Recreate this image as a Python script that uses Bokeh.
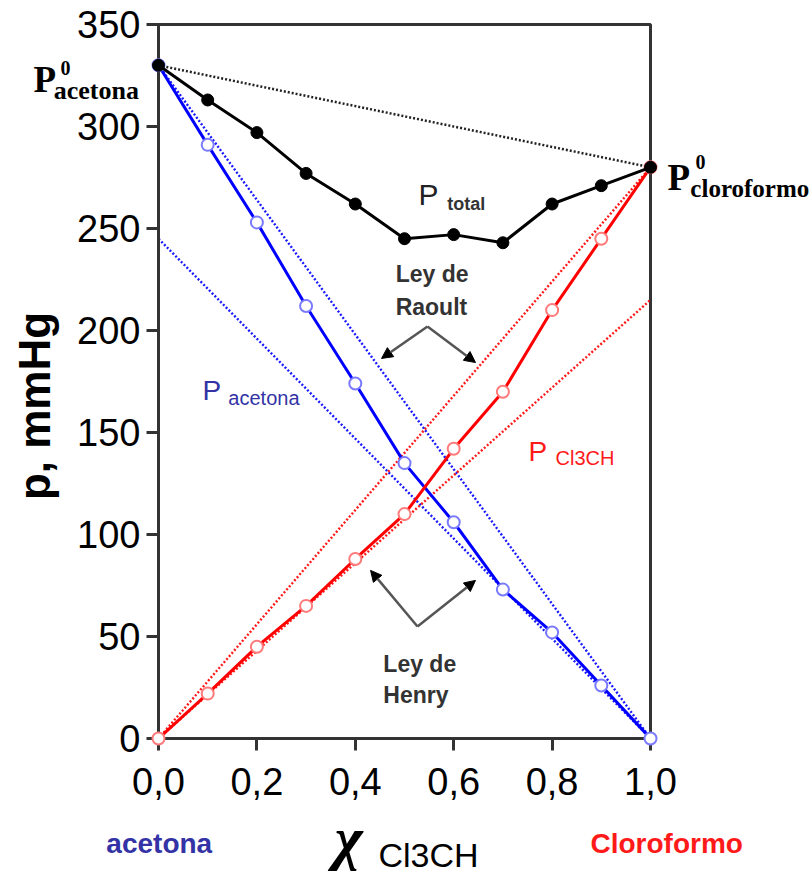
from bokeh.plotting import figure
from bokeh.models import Range1d, FixedTicker, CustomJSTickFormatter, Arrow, NormalHead
from bokeh.core.properties import value
from bokeh.embed import file_html
from bokeh.resources import INLINE

# ---------------- data ----------------
x_cl3ch = [0.0, 0.1, 0.2, 0.3, 0.4, 0.5, 0.6, 0.7, 0.8, 0.9, 1.0]
p_total = [330, 313, 297, 277, 262, 245, 247, 243, 262, 271, 280]
p_acetona = [330, 291, 253, 212, 174, 135, 106, 73, 52, 26, 0]
p_cloroformo = [0, 22, 45, 65, 88, 110, 142, 170, 210, 245, 280]

p0_acetona = 330
p0_cloroformo = 280
henry_acetona = 245      # Henry line for acetona, value at x = 0
henry_cloroformo = 215   # Henry line for Cl3CH, value at x = 1

x_ticks = [0.0, 0.2, 0.4, 0.6, 0.8, 1.0]
y_ticks = [0, 50, 100, 150, 200, 250, 300, 350]

BLUE = "#0000ff"
RED = "#ff0000"
TXT_BLUE = "#3333a6"
TXT_RED = "#ff1a1a"
AX = "#333333"

p = figure(width=812, height=877, x_range=Range1d(0, 1), y_range=Range1d(0, 350),
           output_backend="svg", toolbar_location=None,
           min_border_left=158, min_border_right=162, min_border_top=24, min_border_bottom=139)
p.grid.visible = False
p.outline_line_color = AX
p.outline_line_width = 3
p.background_fill_color = "white"

for ax in (p.xaxis[0], p.yaxis[0]):
    ax.axis_line_width = 3
    ax.axis_line_color = AX
    ax.major_tick_line_width = 3
    ax.major_tick_line_color = AX
    ax.major_tick_out = 12
    ax.major_tick_in = 0
    ax.minor_tick_line_color = None
    ax.major_label_text_font = "Liberation Sans"
    ax.major_label_text_font_size = "38px"
    ax.major_label_text_color = "black"
p.yaxis[0].major_label_standoff = 6
p.xaxis[0].major_label_standoff = 17
p.yaxis.ticker = FixedTicker(ticks=y_ticks)
p.xaxis.ticker = FixedTicker(ticks=x_ticks)
p.xaxis.formatter = CustomJSTickFormatter(code="return tick.toFixed(1).replace('.', ',');")

# ideal (Raoult) and Henry dotted lines
x0, x1 = x_cl3ch[0], x_cl3ch[-1]
p.line([x0, x1], [p0_acetona, p0_cloroformo], line_color="#222222", line_width=2.5, line_dash="2 2")
p.line([x0, x1], [p0_acetona, 0], line_color=BLUE, line_width=2.4, line_dash="2 2", line_alpha=0.9)
p.line([x0, x1], [henry_acetona, 0], line_color=BLUE, line_width=2.4, line_dash="2 2", line_alpha=0.9)
p.line([x0, x1], [0, p0_cloroformo], line_color=RED, line_width=2.4, line_dash="2 2", line_alpha=0.9)
p.line([x0, x1], [0, henry_cloroformo], line_color=RED, line_width=2.4, line_dash="2 2", line_alpha=0.9)

# real partial pressures
p.line(x_cl3ch, p_acetona, line_color=BLUE, line_width=3)
p.line(x_cl3ch, p_cloroformo, line_color=RED, line_width=3)
r = p.scatter(x_cl3ch, p_acetona, size=12, marker="circle", fill_color="white",
              line_color="#7a7aff", line_width=2)
r.level = "overlay"
r = p.scatter(x_cl3ch, p_cloroformo, size=12, marker="circle", fill_color="white",
              line_color="#ff7a7a", line_width=2)
r.level = "overlay"

# total pressure
r = p.line(x_cl3ch, p_total, line_color="black", line_width=3)
r.level = "overlay"
r = p.scatter(x_cl3ch, p_total, size=12, marker="circle", fill_color="black", line_color="black")
r.level = "overlay"


def txt(x, y, s, size, color="black", font="Liberation Sans", style="normal",
        align="left", baseline="alphabetic", angle=0.0):
    g = p.text(x=[x], y=[y], text=[s], text_font=value(font), text_font_size=value(size),
               text_color=color, text_font_style=value(style), text_align=value(align),
               text_baseline=value(baseline), angle=angle)
    g.level = "overlay"


# P0 labels
txt(-0.254, 323, "P", "37px", font="Liberation Serif", style="bold")
txt(-0.199, 328.5, "0", "20px", font="Liberation Serif", style="bold")
txt(-0.213, 317.5, "acetona", "26px", font="Liberation Serif", style="bold")
txt(1.0346, 275, "P", "37px", font="Liberation Serif", style="bold")
txt(1.0915, 282.5, "0", "20px", font="Liberation Serif", style="bold")
txt(1.081, 269.5, "cloroformo", "25px", font="Liberation Serif", style="bold")

# curve labels
txt(0.5285, 266.5, "P", "30px", color="#222222")
txt(0.587, 262, "total", "18px", color="#333333", style="bold")
txt(0.0894, 170.5, "P", "28px", color=TXT_BLUE)
txt(0.142, 167, "acetona", "20px", color=TXT_BLUE)
txt(0.752, 140.5, "P", "28px", color=TXT_RED)
txt(0.807, 137.5, "Cl3CH", "20px", color=TXT_RED)

# law labels
txt(0.482, 227.5, "Ley de", "23px", color="#333333", style="bold")
txt(0.482, 211.5, "Raoult", "23px", color="#333333", style="bold")
txt(0.457, 36.5, "Ley de", "23px", color="#333333", style="bold")
txt(0.457, 21.5, "Henry", "23px", color="#333333", style="bold")

# arrows
for (xs, ys, xe, ye) in [(0.5467, 202, 0.4533, 186.3), (0.5467, 202, 0.6443, 184.3),
                         (0.5264, 54.9, 0.431, 82.4), (0.5264, 54.9, 0.6443, 77.5)]:
    p.add_layout(Arrow(x_start=xs, y_start=ys, x_end=xe, y_end=ye, line_color="#555555",
                       line_width=2.5,
                       end=NormalHead(size=11, fill_color="black", line_color="black")))

# axis titles
txt(-0.252, 163, "p, mmHg", "44px", style="bold", align="center", baseline="middle", angle=1.5708)
txt(-0.106, -51.5, "acetona", "28px", color=TXT_BLUE, style="bold")
txt(0.878, -51.5, "Cloroformo", "28px", color=TXT_RED, style="bold")
txt(0.358, -49, "\u03c7", "60px", font="Liberation Serif", style="bold italic")
txt(0.447, -57, "Cl3CH", "34px")

open("out.html", "w").write(file_html(p, INLINE))
